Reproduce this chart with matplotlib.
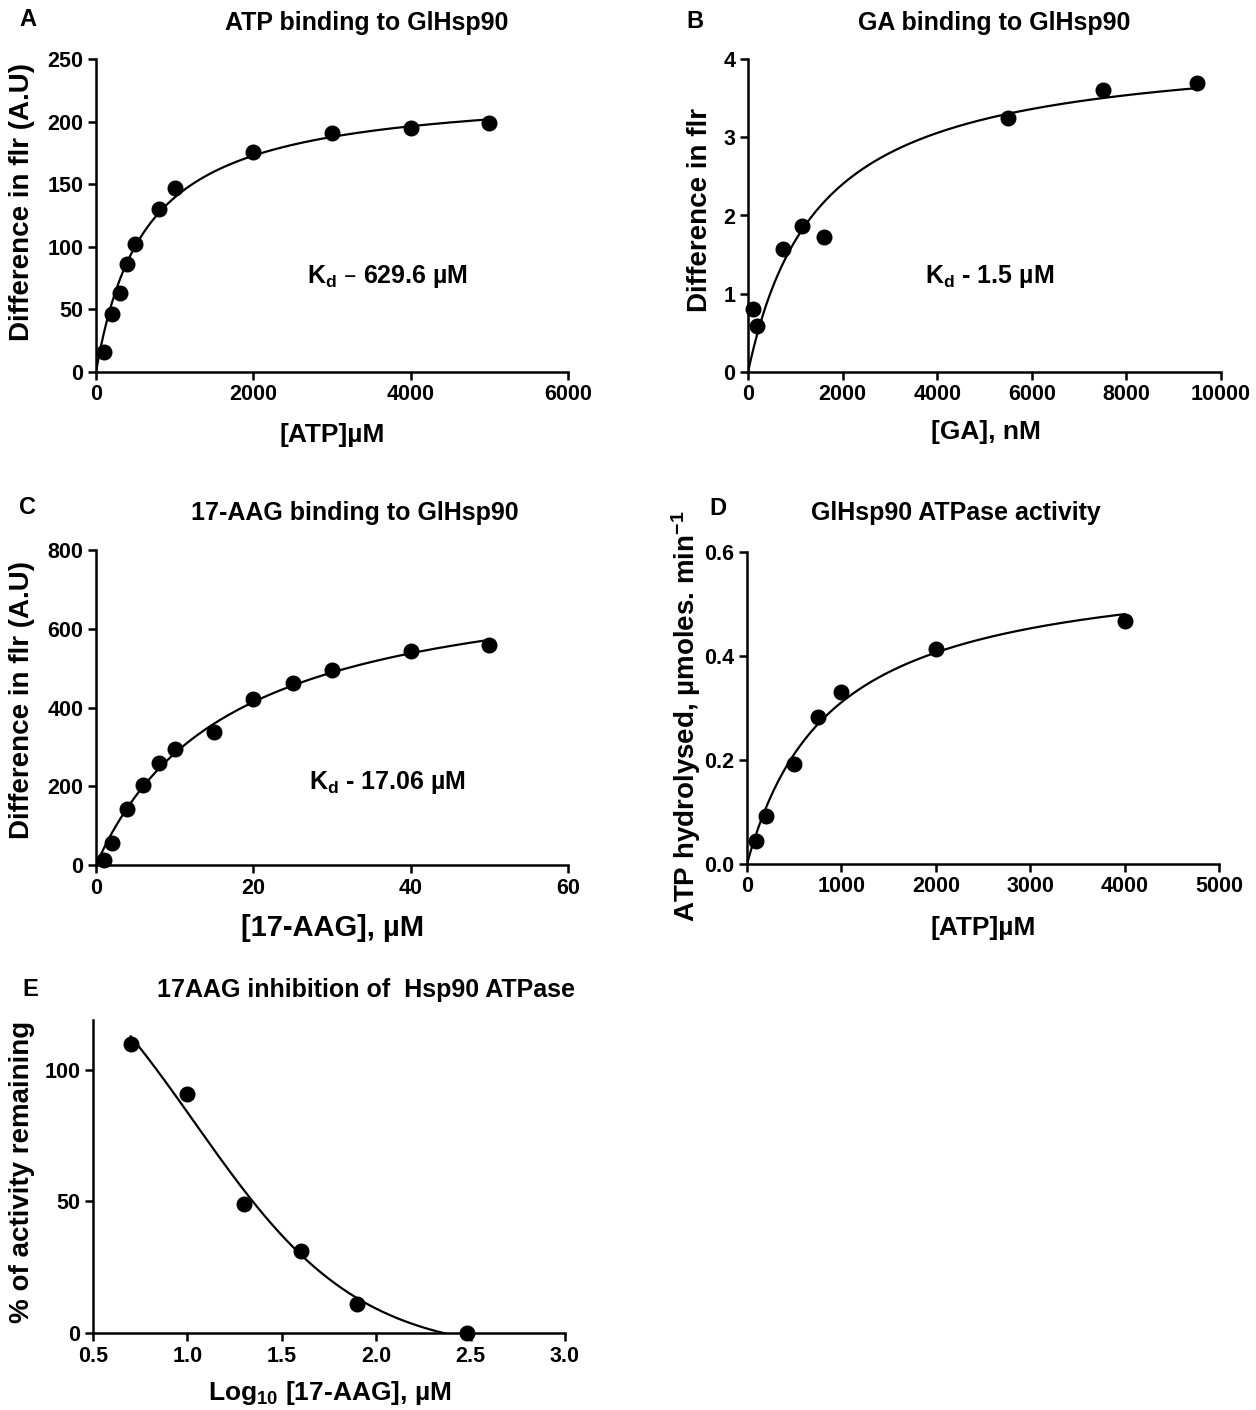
import numpy as np
import matplotlib
matplotlib.use("Agg")
import matplotlib.pyplot as plt

plt.rcParams["font.family"] = ["Liberation Sans", "DejaVu Sans"]
plt.rcParams["font.weight"] = "bold"
plt.rcParams["axes.linewidth"] = 1.8

# ---- dados ----
# A: ATP binding (uM, A.U.)
atp_x = [100, 200, 300, 400, 500, 800, 1000, 2000, 3000, 4000, 5000]
atp_y = [16, 46, 63, 86, 102, 130, 147, 176, 191, 195, 199]
atp_kd = 629.6

# B: GA binding (nM)
ga_x = [100, 200, 750, 1150, 1600, 5500, 7500, 9500]
ga_y = [0.80, 0.59, 1.57, 1.87, 1.73, 3.25, 3.61, 3.69]
ga_kd = 1500.0

# C: 17-AAG binding (uM)
aag_x = [1, 2, 4, 6, 8, 10, 15, 20, 25, 30, 40, 50]
aag_y = [12, 57, 143, 202, 260, 295, 338, 422, 462, 494, 543, 558]
aag_kd = 17.06

# D: ATPase activity
atpase_x = [100, 200, 500, 750, 1000, 2000, 4000]
atpase_y = [0.045, 0.093, 0.193, 0.283, 0.330, 0.413, 0.468]

# E: inhibition
inh_x = [0.70, 1.00, 1.30, 1.60, 1.90, 2.48]
inh_y = [110, 91, 49, 31, 11, 0]

W, H = 1256, 1410
fig = plt.figure(figsize=(W / 100, H / 100), dpi=100)


def box(x0, x1, y_top, y_bot):
    return [x0 / W, 1 - y_bot / H, (x1 - x0) / W, (y_bot - y_top) / H]


def hyperbola(x, bmax, kd):
    return bmax * x / (kd + x)


def fit_bmax(x, y, kd):
    x = np.asarray(x, float)
    y = np.asarray(y, float)
    f = x / (kd + x)
    return np.sum(y * f) / np.sum(f * f)


def fit_both(x, y):
    best = None
    for kd in np.linspace(50, 5000, 2000):
        b = fit_bmax(x, y, kd)
        err = np.sum((hyperbola(np.asarray(x, float), b, kd) - np.asarray(y)) ** 2)
        if best is None or err < best[0]:
            best = (err, b, kd)
    return best[1], best[2]


def logistic(x, bottom, top, x50, h=1.0):
    return bottom + (top - bottom) / (1 + 10 ** ((x - x50) * h))


def fit_inhibition(x, y, h=1.0):
    # log(inibidor) vs resposta, inclinacao padrao (Hill = 1)
    x = np.asarray(x, float)
    y = np.asarray(y, float)
    best = None
    for x50 in np.linspace(0.5, 2.5, 801):
        s = 1 / (1 + 10 ** ((x - x50) * h))
        A = np.column_stack([1 - s, s])
        coef, *_ = np.linalg.lstsq(A, y, rcond=None)
        err = np.sum((A @ coef - y) ** 2)
        if best is None or err < best[0]:
            best = (err, coef[0], coef[1], x50)
    return best[1:]


def style(ax, xlim, ylim, xticks, yticks, xfmt=None, yfmt=None):
    ax.set_xlim(*xlim)
    ax.set_ylim(*ylim)
    ax.set_xticks(xticks)
    ax.set_yticks(yticks)
    if xfmt:
        ax.set_xticklabels([xfmt.format(v) for v in xticks])
    if yfmt:
        ax.set_yticklabels([yfmt.format(v) for v in yticks])
    for s in ["top", "right"]:
        ax.spines[s].set_visible(False)
    ax.tick_params(direction="out", length=6, width=1.8, labelsize=15.5, pad=3)
    for lab in ax.get_xticklabels() + ax.get_yticklabels():
        lab.set_fontweight("bold")


def txt(x, y, s, size=16, rot=0, ha="center"):
    fig.text(x / W, 1 - y / H, s, fontsize=size, fontweight="bold",
             rotation=rot, ha=ha, va="center")


mk = dict(marker="o", ls="none", color="black", ms=10.5, clip_on=False, zorder=3)
ln = dict(color="black", lw=1.6, zorder=2)

# A
axA = fig.add_axes(box(96, 568, 59, 372))
b = fit_bmax(atp_x, atp_y, atp_kd)
xx = np.linspace(0, max(atp_x), 300)
axA.plot(xx, hyperbola(xx, b, atp_kd), **ln)
axA.plot(atp_x, atp_y, **mk)
style(axA, (0, 6000), (0, 250), [0, 2000, 4000, 6000], [0, 50, 100, 150, 200, 250])
txt(28, 20, "A", 17)
txt(367, 23, "ATP binding to GlHsp90", 18)
txt(22, 202, "Difference in flr (A.U)", 20, 90)
txt(332, 435, "[ATP]µM", 19)
txt(388, 277, r"$\mathregular{K_d}$ – 629.6 µM", 18)

# B
axB = fig.add_axes(box(748, 1221, 59, 372))
b = fit_bmax(ga_x, ga_y, ga_kd)
xx = np.linspace(0, max(ga_x), 300)
axB.plot(xx, hyperbola(xx, b, ga_kd), **ln)
axB.plot(ga_x, ga_y, **mk)
style(axB, (0, 10000), (0, 4), [0, 2000, 4000, 6000, 8000, 10000], [0, 1, 2, 3, 4])
txt(695, 22, "B", 17)
txt(994, 23, "GA binding to GlHsp90", 18)
txt(700, 210, "Difference in flr", 20, 90)
txt(986, 432, "[GA], nM", 19)
txt(990, 277, r"$\mathregular{K_d}$ - 1.5 µM", 18)

# C
axC = fig.add_axes(box(96, 568, 550, 865))
b = fit_bmax(aag_x, aag_y, aag_kd)
xx = np.linspace(0, max(aag_x), 300)
axC.plot(xx, hyperbola(xx, b, aag_kd), **ln)
axC.plot(aag_x, aag_y, **mk)
style(axC, (0, 60), (0, 800), [0, 20, 40, 60], [0, 200, 400, 600, 800])
txt(28, 507, "C", 17)
txt(355, 513, "17-AAG binding to GlHsp90", 18)
txt(22, 700, "Difference in flr (A.U)", 20, 90)
txt(333, 928, "[17-AAG], µM", 21)
txt(387, 782, r"$\mathregular{K_d}$ - 17.06 µM", 18)

# D
axD = fig.add_axes(box(747, 1219, 552, 864))
b, k = fit_both(atpase_x, atpase_y)
xx = np.linspace(0, max(atpase_x), 300)
axD.plot(xx, hyperbola(xx, b, k), **ln)
axD.plot(atpase_x, atpase_y, **mk)
style(axD, (0, 5000), (0, 0.6), [0, 1000, 2000, 3000, 4000, 5000],
      [0.0, 0.2, 0.4, 0.6], yfmt="{:.1f}")
txt(718, 508, "D", 17)
txt(956, 513, "GlHsp90 ATPase activity", 18)
txt(686, 716, r"ATP hydrolysed, µmoles. min$\mathregular{^{-1}}$", 20, 90)
txt(983, 928, "[ATP]µM", 19)

# E
axE = fig.add_axes(box(93, 565, 1020, 1333))
bot, top, x50 = fit_inhibition(inh_x, inh_y)
xx = np.linspace(min(inh_x), max(inh_x), 300)
axE.plot(xx, logistic(xx, bot, top, x50), **ln)
axE.plot(inh_x, inh_y, **mk)
style(axE, (0.5, 3.0), (0, 119), [0.5, 1.0, 1.5, 2.0, 2.5, 3.0], [0, 50, 100],
      xfmt="{:.1f}")
txt(30, 990, "E", 17)
txt(366, 990, "17AAG inhibition of  Hsp90 ATPase", 18)
txt(22, 1172, "% of activity remaining", 20, 90)
txt(330, 1393, r"Log$\mathregular{_{10}}$ [17-AAG], µM", 19)

fig.savefig("out.png", dpi=100)
